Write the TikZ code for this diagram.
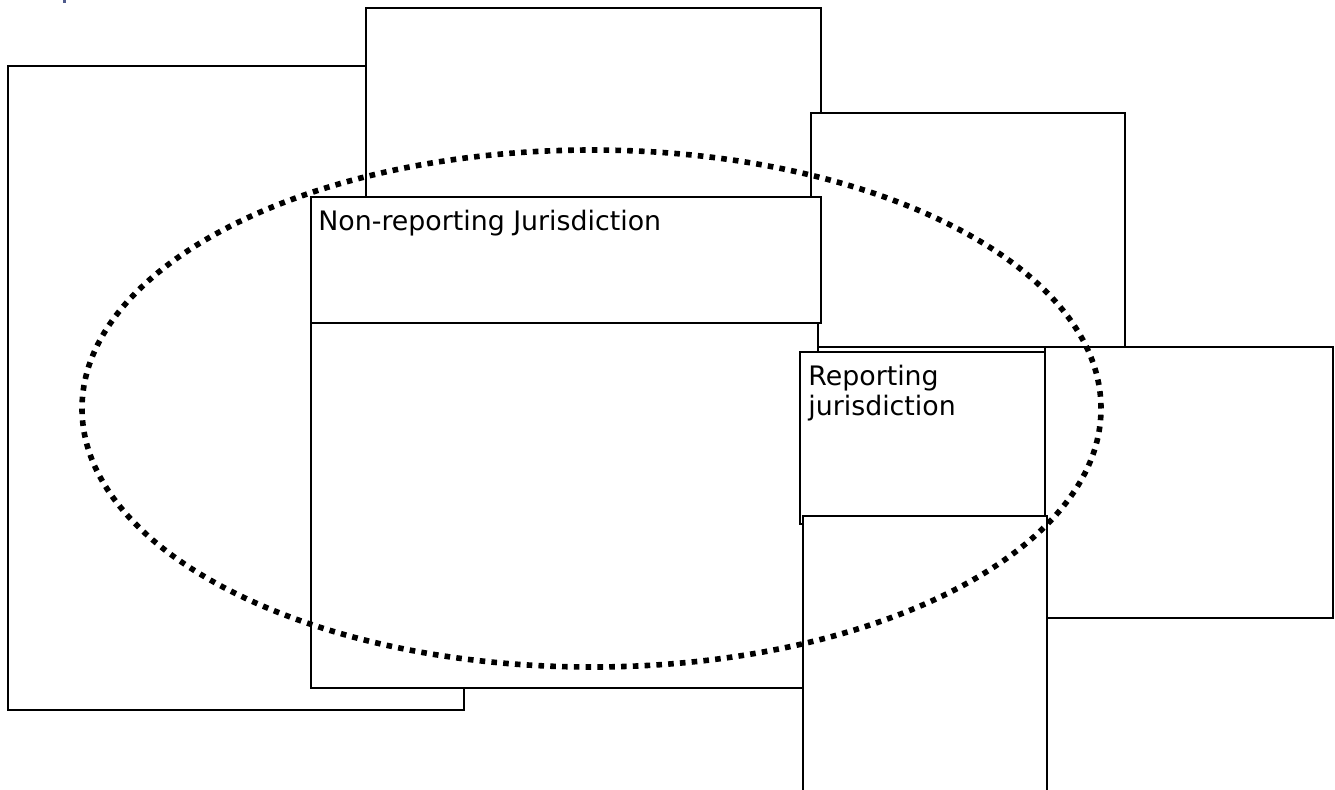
\documentclass[tikz,border=0pt]{standalone}
\usepackage{fontspec}
\setmainfont{DejaVu Sans}
\usetikzlibrary{shapes.geometric}
\definecolor{markblue}{HTML}{4F5B8C}
\tikzset{
  boxnode/.style={draw=black, fill=white, line width=1pt, inner sep=0pt, outer sep=0pt, anchor=north west},
  labeltext/.style={inner sep=0pt, anchor=base west, font=\fontsize{13.4pt}{15pt}\selectfont, align=left},
  dotring/.style={ellipse, draw=black, line width=2.8pt, dash pattern=on 2.8pt off 3.1pt, inner sep=0pt, outer sep=0pt}
}
\begin{document}
\begin{tikzpicture}[x=0.5pt, y=-0.5pt]
\useasboundingbox (0,0) rectangle (1335,789);
\clip (0,0) rectangle (1335,789);
\fill[markblue] (63,0) rectangle (66,3);
% boxes (coordinates in px, top-left corner; sizes in pt = px/2)
\node[boxnode, minimum width=228pt, minimum height=322pt] (leftbox) at (8,66) {};
\node[boxnode, minimum width=227.5pt, minimum height=94.5pt] (topbox) at (366,8) {};
\node[boxnode, minimum width=157pt, minimum height=117pt] (righttop) at (811,113) {};
\node[boxnode, minimum width=255pt, minimum height=63pt] (nonrep) at (311,197) {};
\node[boxnode, minimum width=253.5pt, minimum height=182.5pt] (lowmid) at (311,323) {};
\node[boxnode, minimum width=144pt, minimum height=135.5pt] (farright) at (1045,347) {};
\node[boxnode, minimum width=122.5pt, minimum height=86pt] (report) at (800,352) {};
\node[boxnode, minimum width=122pt, minimum height=150pt] (lowright) at (803,516) {};
% texts
\node[labeltext] (nonreptext) at (318,230) {Non-reporting Jurisdiction};
\node[labeltext] (reporttext) at (808,415) {Reporting\\jurisdiction};
% dotted ellipse
\node[dotring, minimum width=509.5pt, minimum height=258.5pt] (ring) at (591.5,408.5) {};
\end{tikzpicture}
\end{document}
